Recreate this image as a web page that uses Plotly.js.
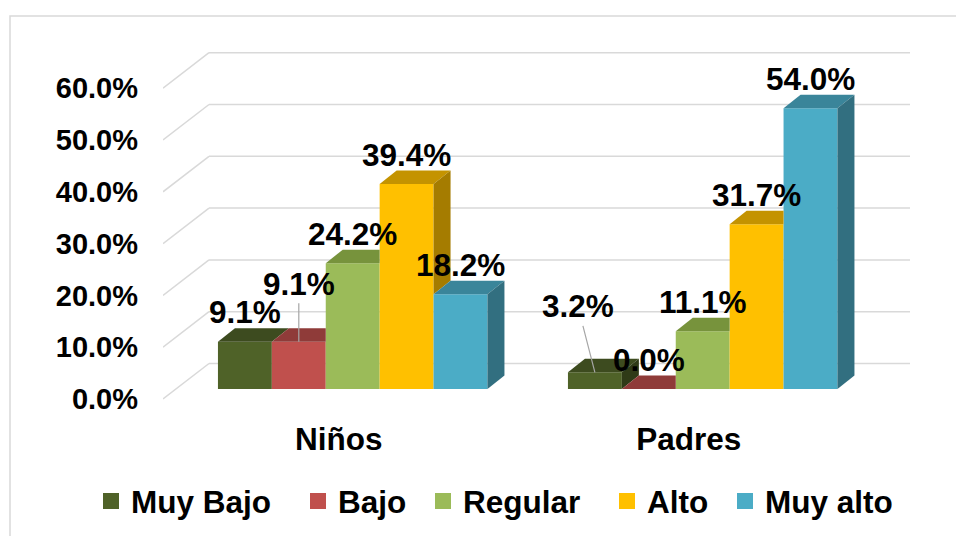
<!DOCTYPE html>
<html>
<head>
<meta charset="utf-8">
<script src="https://cdn.plot.ly/plotly-3.0.1.min.js"></script>
<style>html,body{margin:0;padding:0;background:#fff;}#chart{width:956px;height:536px;}</style>
</head>
<body>
<div id="chart"></div>
<script>
// ---------------- DATA ----------------
const categories = ['Niños', 'Padres'];
const seriesNames = ['Muy Bajo', 'Bajo', 'Regular', 'Alto', 'Muy alto'];
const muyBajo = [9.1, 3.2];
const bajo = [9.1, 0.0];
const regular = [24.2, 11.1];
const alto = [39.4, 31.7];
const muyAlto = [18.2, 54.0];
const yTickValues = [0, 10, 20, 30, 40, 50, 60];
const yTickLabels = ['0.0%', '10.0%', '20.0%', '30.0%', '40.0%', '50.0%', '60.0%'];

const seriesValues = [muyBajo, bajo, regular, alto, muyAlto];

// ---------------- STYLE ----------------
const frontColors = ['#4f6228', '#c0504d', '#9bbb59', '#ffc000', '#4bacc6'];
const topColors   = ['#3d4b1f', '#8f3b39', '#77933c', '#c49300', '#3a859a'];
const sideColors  = ['#2f3a17', '#6f2c2a', '#5a712e', '#a57c00', '#326f80'];
// pixel centres of the legend symbols (layout only)
const legendSymbolCenters = [110.5, 317.5, 442.5, 626.5, 744.5];

const W = 956, H = 536;
const L = 163, R = 910, T = 40, B = 416;
const CAT0_PX = 352.7, PX_PER_CAT = 350;
const BAR_ZERO_PX = 389, PX_PER_PCT = 5.2;
const GRID_ZERO_PX = 399, GRID_PX_PER_PCT = 5.18;
const GRID_DEPTH_DX = 46, GRID_DEPTH_DY = 35.5;
const BAR_DEPTH_DX = 17, BAR_DEPTH_DY = 13.5;
const BAR_W_PX = 53.9;
const FONT = 'Liberation Sans, Arial, sans-serif';

const xRange = [(L - CAT0_PX) / PX_PER_CAT, (R - CAT0_PX) / PX_PER_CAT];
const yRange = [(BAR_ZERO_PX - B) / PX_PER_PCT, (BAR_ZERO_PX - T) / PX_PER_PCT];
const y2Range = [(GRID_ZERO_PX - B) / GRID_PX_PER_PCT, (GRID_ZERO_PX - T) / GRID_PX_PER_PCT];

const barW = BAR_W_PX / PX_PER_CAT;
const groupW = barW * seriesNames.length;
const ddx = BAR_DEPTH_DX / PX_PER_CAT;
const ddy = BAR_DEPTH_DY / PX_PER_PCT;

const catX = categories.map((c, i) => i);

const traces = [];
// front faces: real bar traces
seriesNames.forEach((name, s) => {
  traces.push({
    type: 'bar', x: catX, y: seriesValues[s], name: name,
    width: barW, offset: -groupW / 2 + s * barW,
    marker: {color: frontColors[s], line: {width: 0}},
    showlegend: false, hoverinfo: 'skip'
  });
});

// 3D top and side faces, derived from the same values
categories.forEach((c, ci) => {
  seriesNames.forEach((name, s) => {
    const v = seriesValues[s][ci];
    const x0 = ci - groupW / 2 + s * barW;
    const x1 = x0 + barW;
    const isLast = s === seriesNames.length - 1;
    const next = isLast ? 0 : seriesValues[s + 1][ci];
    let tx, ty;
    if (!isLast && next > v) {
      tx = [x0, x1, x1, x0 + ddx, x0];
      ty = [v, v, v + ddy, v + ddy, v];
    } else {
      tx = [x0, x1, x1 + ddx, x0 + ddx, x0];
      ty = [v, v, v + ddy, v + ddy, v];
    }
    traces.push({type: 'scatter', mode: 'lines', x: tx, y: ty, fill: 'toself',
      fillcolor: topColors[s], line: {width: 0, color: topColors[s]},
      showlegend: false, hoverinfo: 'skip'});
    if (v > next || (isLast && v > 0)) {
      const vb = isLast ? 0 : next;
      traces.push({type: 'scatter', mode: 'lines',
        x: [x1, x1, x1 + ddx, x1 + ddx, x1], y: [vb, v, v + ddy, vb + ddy, vb],
        fill: 'toself', fillcolor: sideColors[s], line: {width: 0, color: sideColors[s]},
        showlegend: false, hoverinfo: 'skip'});
    }
  });
});

// legend entries (one legend per entry so each can sit where the original has it)
const legendFont = {family: FONT, size: 31.5, color: '#000', weight: 'bold'};
const legendLayouts = {};
seriesNames.forEach((name, s) => {
  const key = s === 0 ? 'legend' : 'legend' + (s + 1);
  traces.push({type: 'scatter', mode: 'markers', x: [null], y: [null], name: name,
    legend: key, showlegend: true,
    marker: {symbol: 'square', size: 16, color: frontColors[s]}, hoverinfo: 'skip'});
  legendLayouts[key] = {orientation: 'h', xref: 'container', yref: 'container',
    x: (legendSymbolCenters[s] - 19.5) / W, xanchor: 'left', y: 1 - 501 / H, yanchor: 'middle',
    font: legendFont, itemwidth: 30, bgcolor: 'rgba(0,0,0,0)'};
});

// gridlines (back wall + left wall), from tick values
const shapes = [];
const gxFront = xRange[0];
const gxBack = xRange[0] + GRID_DEPTH_DX / PX_PER_CAT;
const gdy = GRID_DEPTH_DY / GRID_PX_PER_PCT;
yTickValues.forEach(t => {
  shapes.push({type: 'line', xref: 'x', yref: 'y2', x0: gxFront, y0: t, x1: gxBack, y1: t + gdy,
    line: {color: '#d9d9d9', width: 1.5}, layer: 'below'});
  shapes.push({type: 'line', xref: 'x', yref: 'y2', x0: gxBack, y0: t + gdy, x1: xRange[1], y1: t + gdy,
    line: {color: '#d9d9d9', width: 1.5}, layer: 'below'});
});
// chart border
shapes.push({type: 'rect', xref: 'paper', yref: 'paper',
  x0: (10 - L) / (R - L), x1: (W + 5 - L) / (R - L),
  y0: (B - (H + 5)) / (B - T), y1: (B - 16) / (B - T),
  line: {color: '#d9d9d9', width: 1.5}, fillcolor: 'rgba(0,0,0,0)', layer: 'below'});

// data labels
const labelStyle = {
  '0-1': {ax: 0, ay: -58},
  '1-0': {ax: -17, ay: -66}
};
const annotations = [];
categories.forEach((c, ci) => {
  seriesNames.forEach((name, s) => {
    const v = seriesValues[s][ci];
    const xc = ci - groupW / 2 + (s + 0.5) * barW;
    const st = labelStyle[ci + '-' + s];
    const a = {x: xc, y: v, xref: 'x', yref: 'y', text: v.toFixed(1) + '%',
      font: {family: FONT, size: 31.5, color: '#000', weight: 'bold'}};
    if (st) {
      Object.assign(a, {showarrow: true, arrowhead: 0, arrowwidth: 1.2, arrowcolor: '#a6a6a6',
        ax: st.ax, ay: st.ay, standoff: 0, startstandoff: 0});
    } else {
      Object.assign(a, {showarrow: false, yanchor: 'middle', yshift: 29.5});
    }
    annotations.push(a);
  });
});

const layout = Object.assign({
  width: W, height: H,
  margin: {l: L, r: W - R, t: T, b: H - B},
  paper_bgcolor: '#ffffff', plot_bgcolor: 'rgba(0,0,0,0)',
  barmode: 'overlay',
  showlegend: true,
  xaxis: {range: xRange, showgrid: false, zeroline: false, showline: false,
    tickvals: catX, ticktext: categories, ticks: '', ticklabelshift: -14, ticklabelstandoff: 1,
    tickfont: {family: FONT, size: 31.5, color: '#000', weight: 'bold'}, fixedrange: true},
  yaxis: {range: yRange, visible: false, fixedrange: true},
  yaxis2: {range: y2Range, overlaying: 'y', side: 'left', anchor: 'x',
    showgrid: false, zeroline: false, showline: false,
    tickvals: yTickValues, ticktext: yTickLabels, ticks: '', ticklabelstandoff: 24,
    tickfont: {family: FONT, size: 29, color: '#000', weight: 'bold'}, fixedrange: true},
  shapes: shapes,
  annotations: annotations
}, legendLayouts);

Plotly.newPlot('chart', traces, layout, {displayModeBar: false, staticPlot: true});
</script>
</body>
</html>
